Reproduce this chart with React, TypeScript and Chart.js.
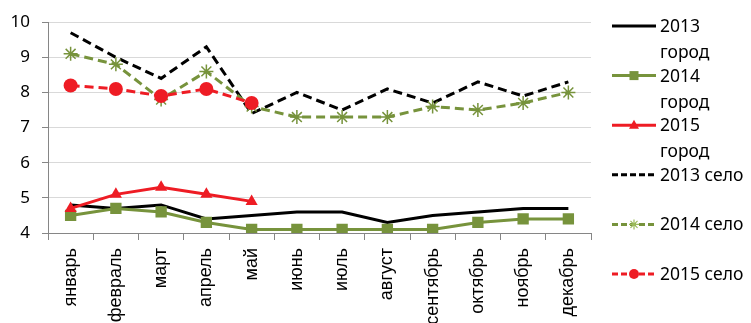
import React, { useEffect, useRef } from "react";
import { Chart, registerables } from "chart.js";

Chart.register(...registerables);

const months = ["январь", "февраль", "март", "апрель", "май", "июнь", "июль", "август", "сентябрь", "октябрь", "ноябрь", "декабрь"];

const city2013 = [4.8, 4.7, 4.8, 4.4, 4.5, 4.6, 4.6, 4.3, 4.5, 4.6, 4.7, 4.7];
const city2014 = [4.5, 4.7, 4.6, 4.3, 4.1, 4.1, 4.1, 4.1, 4.1, 4.3, 4.4, 4.4];
const city2015 = [4.7, 5.1, 5.3, 5.1, 4.9];
const village2013 = [9.7, 9.0, 8.4, 9.3, 7.4, 8.0, 7.5, 8.1, 7.7, 8.3, 7.9, 8.3];
const village2014 = [9.1, 8.8, 7.8, 8.6, 7.6, 7.3, 7.3, 7.3, 7.6, 7.5, 7.7, 8.0];
const village2015 = [8.2, 8.1, 7.9, 8.1, 7.7];

const seriesNames = ["2013 город", "2014 город", "2015 город", "2013 село", "2014 село", "2015 село"];
const legendLines = [["2013", "город"], ["2014", "город"], ["2015", "город"], ["2013 село"], ["2014 село"], ["2015 село"]];

const AXIS_FONT = "'Liberation Sans'";
const TEXT_FONT = "'Noto Sans'";
const BLACK = "#000000";
const GREEN = "#77933c";
const RED = "#ee1c24";
const DASH = [9, 5];

type Style = { color: string; dash: number[]; marker: string | null };
const styles: Style[] = [
  { color: BLACK, dash: [], marker: null },
  { color: GREEN, dash: [], marker: "rect" },
  { color: RED, dash: [], marker: "triangle" },
  { color: BLACK, dash: DASH, marker: null },
  { color: GREEN, dash: DASH, marker: "star" },
  { color: RED, dash: DASH, marker: "circle" },
];

function drawMarker(ctx: CanvasRenderingContext2D, kind: string, x: number, y: number, r: number, color: string) {
  ctx.save();
  ctx.setLineDash([]);
  ctx.fillStyle = color;
  ctx.strokeStyle = color;
  if (kind === "rect") {
    ctx.fillRect(x - r, y - r, 2 * r, 2 * r);
  } else if (kind === "triangle") {
    ctx.beginPath();
    ctx.moveTo(x, y - r * 1.1);
    ctx.lineTo(x + r, y + r * 0.7);
    ctx.lineTo(x - r, y + r * 0.7);
    ctx.closePath();
    ctx.fill();
  } else if (kind === "circle") {
    ctx.beginPath();
    ctx.arc(x, y, r, 0, Math.PI * 2);
    ctx.fill();
  } else if (kind === "star") {
    ctx.lineWidth = 1.2;
    ctx.beginPath();
    for (let i = 0; i < 4; i++) {
      const a = (i * Math.PI) / 4;
      ctx.moveTo(x - Math.cos(a) * r, y - Math.sin(a) * r);
      ctx.lineTo(x + Math.cos(a) * r, y + Math.sin(a) * r);
    }
    ctx.stroke();
  }
  ctx.restore();
}

const legendPlugin = {
  id: "customLegend",
  afterDraw(chart: any) {
    const ctx: CanvasRenderingContext2D = chart.ctx;
    const x0 = 612;
    const x1 = 656;
    const tx = 660;
    const startY = 26;
    const step = 49.6;
    ctx.save();
    ctx.font = `17.5px ${TEXT_FONT}`;
    ctx.textBaseline = "middle";
    ctx.textAlign = "left";
    legendLines.forEach((lines, i) => {
      const y = startY + i * step;
      const st = styles[i];
      ctx.strokeStyle = st.color;
      ctx.lineWidth = 3;
      ctx.setLineDash(st.dash.length ? [6, 3] : []);
      ctx.beginPath();
      ctx.moveTo(x0, y);
      ctx.lineTo(x1, y);
      ctx.stroke();
      if (st.marker) {
        const col = st.marker === "star" ? "#9bbb59" : st.color;
        drawMarker(ctx, st.marker, (x0 + x1) / 2, y, st.marker === "rect" ? 4.5 : 5, col);
      }
      ctx.fillStyle = "#000";
      lines.forEach((t, j) => {
        ctx.fillText(t, tx, y + 1 + j * 26);
      });
    });
    ctx.restore();
  },
};

export default function App() {
  const ref = useRef<HTMLCanvasElement>(null);
  useEffect(() => {
    document.body.style.margin = "0";
    const data = [city2013, city2014, city2015, village2013, village2014, village2015];
    const chart = new Chart(ref.current!, {
      type: "line",
      data: {
        labels: months,
        datasets: data.map((d, i) => {
          const st = styles[i];
          const m = st.marker;
          return {
            label: seriesNames[i],
            data: d,
            borderColor: st.color,
            backgroundColor: st.color,
            borderWidth: 3,
            borderDash: st.dash,
            borderCapStyle: "butt" as const,
            tension: 0,
            pointStyle: (m || "circle") as any,
            pointRadius: m === null ? 0 : m === "rect" ? 8 : 7,
            pointBorderWidth: m === "star" ? 1.5 : 0,
            pointBorderColor: st.color,
            pointBackgroundColor: st.color,
            order: 6 - i,
          };
        }),
      },
      options: {
        responsive: false,
        animation: false,
        layout: { padding: { top: 19, right: 160, left: 0, bottom: 0 } },
        plugins: { legend: { display: false }, tooltip: { enabled: false } },
        scales: {
          x: {
            offset: true,
            grid: {
              display: true,
              drawOnChartArea: false,
              drawTicks: true,
              tickLength: 7,
              color: "#868686",
              offset: true,
            },
            border: { display: true, color: "#868686", width: 1 },
            ticks: {
              minRotation: 90,
              maxRotation: 90,
              autoSkip: false,
              padding: 8,
              color: "#000",
              font: { family: AXIS_FONT, size: 18 },
            },
            afterFit: (s: any) => {
              s.height = 90;
            },
          },
          y: {
            min: 4,
            max: 10,
            ticks: {
              stepSize: 1,
              padding: 12,
              color: "#000",
              font: { family: TEXT_FONT, size: 17 },
            },
            grid: { color: "#d9d9d9", tickLength: 6, tickColor: "#868686" },
            border: { display: true, color: "#868686", width: 1 },
            afterFit: (s: any) => {
              s.width = 48;
            },
          },
        },
      },
      plugins: [legendPlugin],
    });
    return () => chart.destroy();
  }, []);
  return <canvas ref={ref} width={751} height={323} style={{ display: "block" }} />;
}
